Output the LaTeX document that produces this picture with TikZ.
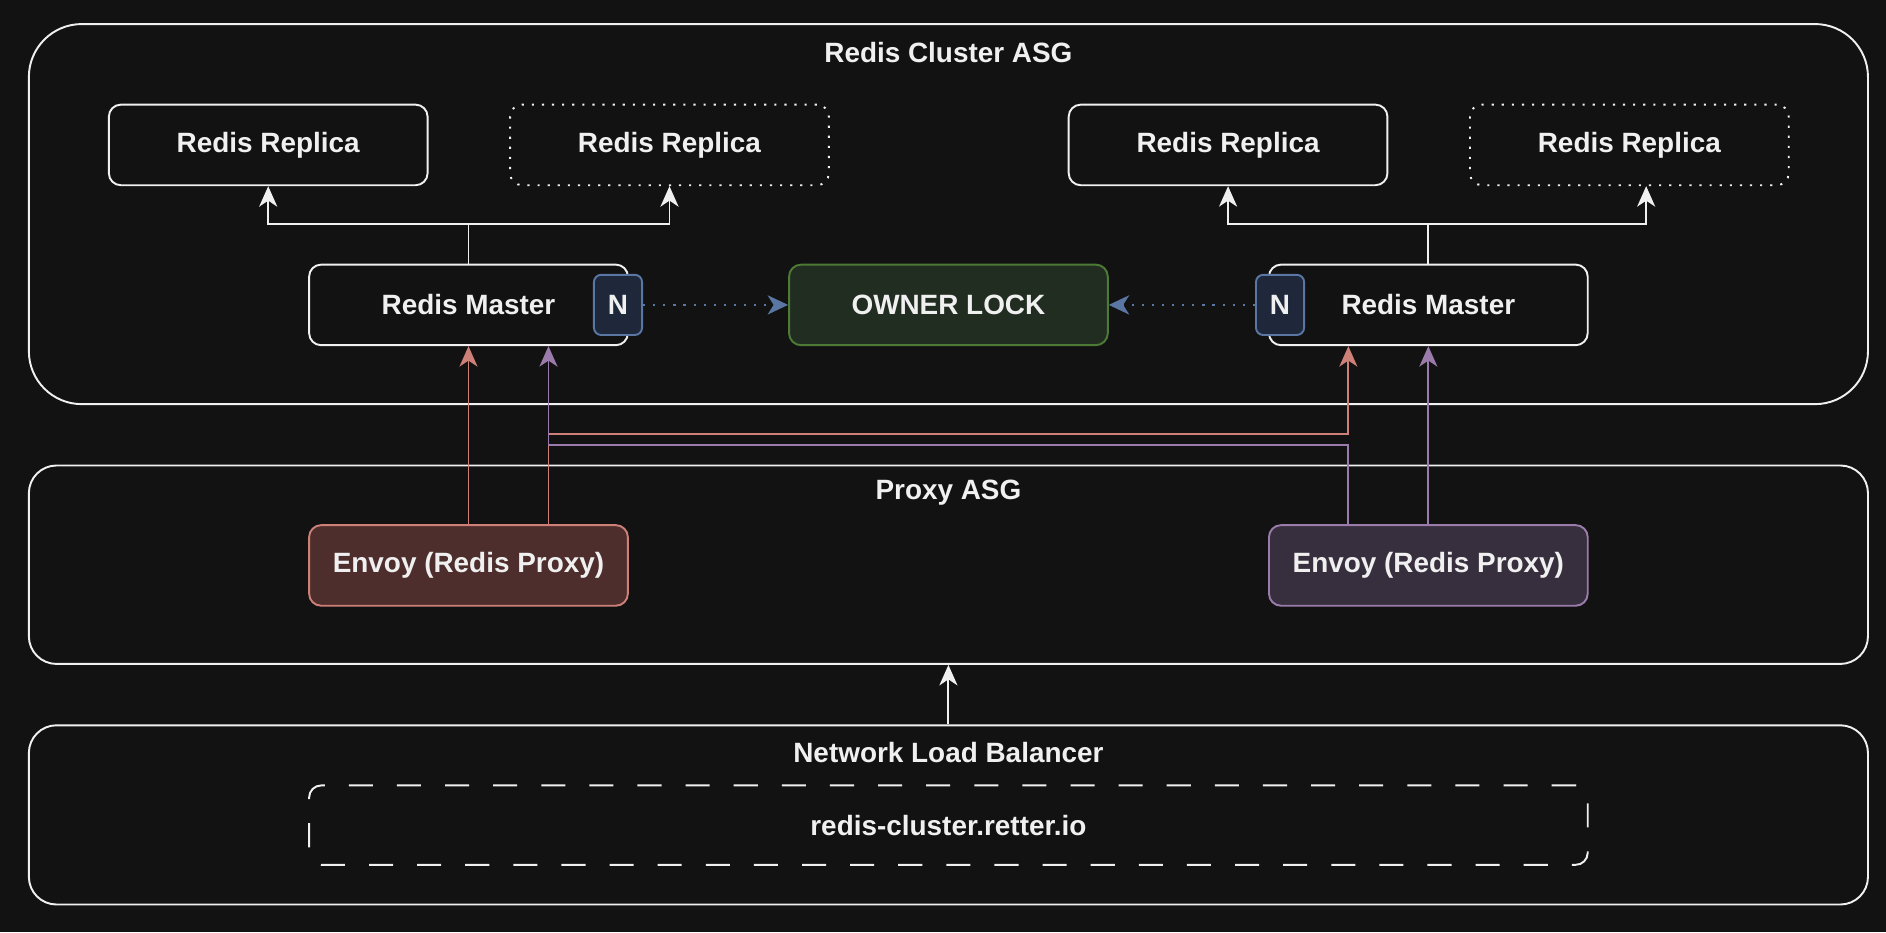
\documentclass[tikz,border=0pt]{standalone}
\usepackage{fontspec}
\setmainfont{Liberation Sans}
\usetikzlibrary{arrows.meta,positioning}
\definecolor{bgc}{HTML}{121212}
\definecolor{fgc}{HTML}{F0F0F0}
\definecolor{nfill}{HTML}{1F283B}
\definecolor{nedge}{HTML}{5A77A3}
\definecolor{lockfill}{HTML}{222D22}
\definecolor{lockedge}{HTML}{4D7A35}
\definecolor{redfill}{HTML}{4D2E2C}
\definecolor{rededge}{HTML}{CD8078}
\definecolor{purfill}{HTML}{372F3D}
\definecolor{puredge}{HTML}{9A7BAB}
\tikzstyle{line} = [draw=fgc, line width=0.8pt, -{Stealth[length=8.5pt, width=7.5pt, inset=2.5pt]}]
\tikzstyle{block} = [draw=fgc, fill=bgc, line width=0.8pt, rectangle, rounded corners=5pt, text centered, minimum width=132.5pt, minimum height=33.5pt]
\tikzstyle{ghost} = [block, dash pattern=on 0.9pt off 3.3pt]
\tikzstyle{group} = [draw=fgc, fill=bgc, line width=0.8pt, rectangle, rounded corners=11.5pt, minimum width=764.5pt]
\tikzstyle{badge} = [draw=nedge, fill=nfill, line width=0.8pt, rectangle, rounded corners=3pt, minimum width=20pt, minimum height=25pt, inner sep=0pt]
\tikzstyle{lock} = [block, draw=lockedge, fill=lockfill]
\tikzstyle{envoyA} = [block, draw=rededge, fill=redfill]
\tikzstyle{envoyB} = [block, draw=puredge, fill=purfill]
\tikzstyle{ping} = [draw=nedge, line width=0.8pt, dash pattern=on 0.9pt off 3.3pt, -{Stealth[length=8.5pt, width=8pt, inset=2.5pt]}]
\tikzstyle{tored} = [line, draw=rededge]
\tikzstyle{topur} = [line, draw=puredge]

\begin{document}
\begin{tikzpicture}[x=0.5pt, y=-0.5pt, node distance=33.5pt, text=fgc, font=\bfseries\fontsize{11.6pt}{14pt}\selectfont]
    \fill[bgc] (0,0) rectangle (1568,775);
    % groups
    \node[group, rounded corners=22pt, minimum height=158pt] (cluster) at (788.5,178) {};
    \node[group, minimum height=82.5pt] (proxy) at (788.5,469.5) {};
    \node[group, minimum height=74.5pt] (nlb) at (788.5,677.5) {};
    \node (clustertitle) at (788.5,44) {Redis Cluster ASG};
    \node (proxytitle) at (788.5,410) {Proxy ASG};
    \node (nlbtitle) at (788.5,626) {Network Load Balancer};
    % redis nodes
    \node[block] (rep1) at (223,120.5) {Redis Replica};
    \node[ghost, right=of rep1] (rep2) {Redis Replica};
    \node[block] (rep3) at (1021,120.5) {Redis Replica};
    \node[ghost, right=of rep3] (rep4) {Redis Replica};
    \node[block] (master1) at (389.5,253.5) {Redis Master};
    \node[block] (master2) at (1187.5,253.5) {Redis Master};
    \node[badge] (n1) at ([xshift=-4.5pt]master1.east) {N};
    \node[badge] (n2) at ([xshift=5pt]master2.west) {N};
    \node[lock] (owner) at (788.5,253.5) {OWNER LOCK};
    % proxies
    \node[envoyA, below=74pt of master1] (envoy1) {Envoy (Redis Proxy)};
    \node[envoyB, below=74pt of master2] (envoy2) {Envoy (Redis Proxy)};
    \node[block, dash pattern=on 10pt off 10pt, minimum width=531.5pt, minimum height=33pt] (dns) at (788.5,686) {redis-cluster.retter.io};
    % replication
    \path[line] (master1.north) -- ++(0,-33) -| (rep1.south);
    \path[line] (master1.north) -- ++(0,-33) -| (rep2.south);
    \path[line] (master2.north) -- ++(0,-33) -| (rep3.south);
    \path[line] (master2.north) -- ++(0,-33) -| ([xshift=7pt]rep4.south);
    \path[ping] (n1.east) -- (owner.west);
    \path[ping] (n2.west) -- (owner.east);
    % proxy to masters
    \path[tored] (envoy1.north) -- (master1.south);
    \path[tored] ([xshift=33.25pt]envoy1.north) -- ++(0,-75) -| ([xshift=-33.25pt]master2.south);
    \path[topur] ([xshift=-33.25pt]envoy2.north) -- ++(0,-66) -| ([xshift=33.25pt]master1.south);
    \path[topur] (envoy2.north) -- (master2.south);
    \path[line] (nlb.north) -- (proxy.south);
\end{tikzpicture}
\end{document}
